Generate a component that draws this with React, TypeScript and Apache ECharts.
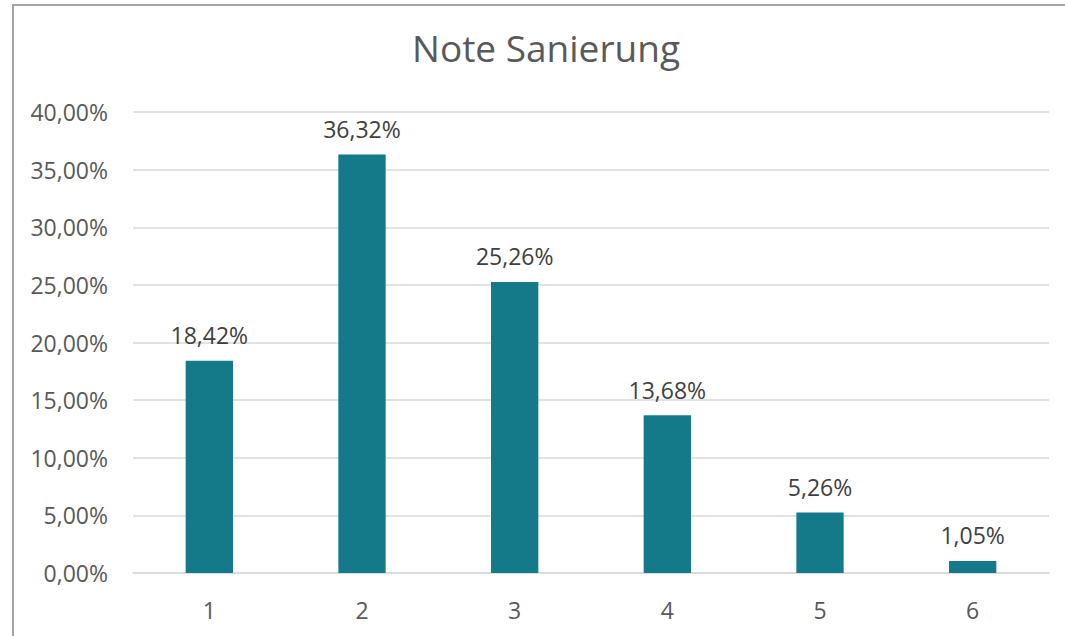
import React, { useEffect, useRef } from "react";
import * as echarts from "echarts";

const categories = ["1", "2", "3", "4", "5", "6"];
const shares = [18.42, 36.32, 25.26, 13.68, 5.26, 1.05];
const titleText = "Note Sanierung";

const fmt = (v: number) => v.toFixed(2).replace(".", ",") + "%";

export default function App() {
  const ref = useRef<HTMLDivElement>(null);
  useEffect(() => {
    if (!ref.current) return;
    const chart = echarts.init(ref.current, null, { renderer: "svg" });
    const font = "'Open Sans', sans-serif";
    chart.setOption({
      animation: false,
      backgroundColor: "#ffffff",
      textStyle: { fontFamily: font },
      title: {
        text: titleText,
        left: 541,
        top: 24,
        textAlign: "center",
        textStyle: { fontFamily: font, fontSize: 37, fontWeight: "normal", color: "#595959" },
      },
      graphic: [
        {
          type: "rect",
          shape: { x: 13, y: 5, width: 1200, height: 800 },
          style: { fill: "none", stroke: "#a6a6a6", lineWidth: 2 },
          silent: true,
        },
      ],
      grid: { left: 133, right: 16, top: 112, bottom: 63 },
      xAxis: {
        type: "category",
        data: categories,
        axisTick: { show: false },
        axisLine: { lineStyle: { color: "#d9d9d9", width: 1.5 } },
        axisLabel: { color: "#595959", fontSize: 23, margin: 25, fontFamily: font },
      },
      yAxis: {
        type: "value",
        min: 0,
        max: 40,
        interval: 5,
        axisLine: { show: false },
        axisTick: { show: false },
        splitLine: { lineStyle: { color: "#d9d9d9", width: 1.5 } },
        axisLabel: {
          color: "#595959",
          fontSize: 23,
          margin: 25,
          fontFamily: font,
          formatter: (v: number) => fmt(v),
        },
      },
      series: [
        {
          type: "bar",
          data: shares,
          barCategoryGap: "69%",
          itemStyle: { color: "#147A89" },
          label: {
            show: true,
            position: "top",
            distance: 14,
            color: "#404040",
            fontSize: 23,
            fontFamily: font,
            formatter: (p: any) => fmt(p.value),
          },
        },
      ],
    });
    return () => chart.dispose();
  }, []);
  return (
    <div
      ref={ref}
      style={{ position: "fixed", left: 0, top: 0, width: 1065, height: 636 }}
    />
  );
}
